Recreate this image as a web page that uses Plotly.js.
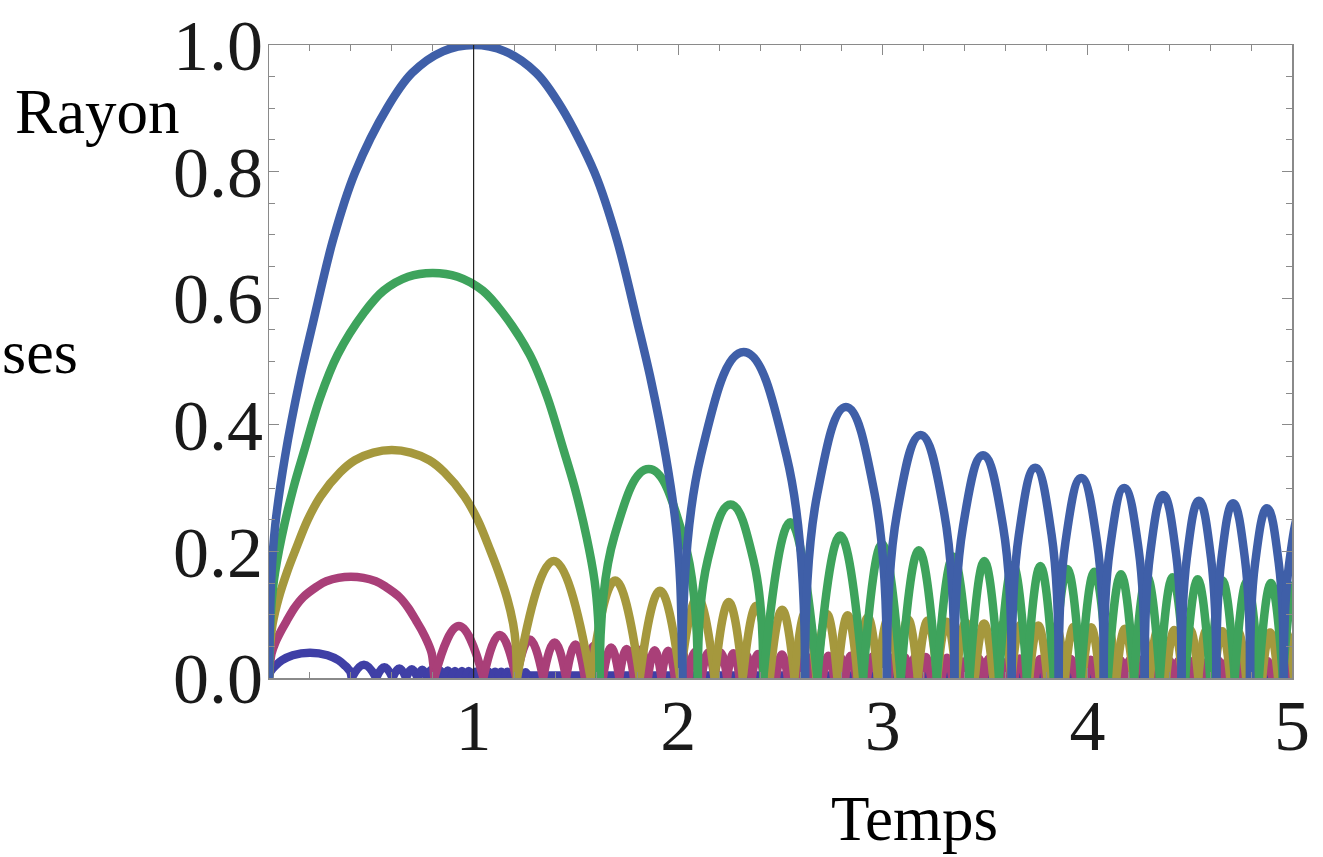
<!DOCTYPE html>
<html>
<head>
<meta charset="utf-8">
<script src="https://cdn.plot.ly/plotly-3.0.1.min.js"></script>
<style>
  html, body { margin: 0; padding: 0; background: #ffffff; }
  #chart { width: 1323px; height: 857px; }
</style>
</head>
<body>
<div id="chart"></div>
<script>
// ---------------- data ----------------
// time axis "Temps", radius axis "Rayon"

// Blue curve (largest bubble): first arch
const blueT = [0, 0.01, 0.03, 0.078, 0.15, 0.215, 0.313, 0.42, 0.58, 0.70, 0.85, 1.0,
  1.153, 1.306, 1.428, 1.592, 1.701, 1.801, 1.867, 1.94, 1.989, 2.01, 2.02];
const blueR = [0, 0.15, 0.24, 0.349, 0.47, 0.561, 0.692, 0.798, 0.902, 0.956, 0.99, 1.0,
  0.99, 0.956, 0.902, 0.798, 0.692, 0.561, 0.47, 0.349, 0.24, 0.15, 0];
// Blue rebounds, null separates arches
const blueBounceT = [
  2.02, 2.11, 2.32, 2.53, 2.62, null,
  2.62, 2.68, 2.82, 2.96, 3.02, null,
  3.02, 3.07, 3.185, 3.30, 3.35, null,
  3.35, 3.392, 3.49, 3.588, 3.63, null,
  3.63, 3.665, 3.745, 3.825, 3.86, null,
  3.86, 3.893, 3.97, 4.047, 4.08, null,
  4.08, 4.11, 4.18, 4.25, 4.28, null,
  4.28, 4.307, 4.37, 4.433, 4.46, null,
  4.46, 4.486, 4.545, 4.604, 4.63, null,
  4.63, 4.655, 4.712, 4.77, 4.795, null,
  4.795, 4.82, 4.878, 4.935, 4.96, null,
  4.96, 4.985, 5.043, 5.10, 5.125
];
const blueBounceR = [
  0, 0.350, 0.515, 0.350, 0, null,
  0, 0.291, 0.428, 0.291, 0, null,
  0, 0.261, 0.384, 0.261, 0, null,
  0, 0.239, 0.352, 0.239, 0, null,
  0, 0.226, 0.332, 0.226, 0, null,
  0, 0.215, 0.316, 0.215, 0, null,
  0, 0.204, 0.300, 0.204, 0, null,
  0, 0.197, 0.289, 0.197, 0, null,
  0, 0.190, 0.280, 0.190, 0, null,
  0, 0.188, 0.276, 0.188, 0, null,
  0, 0.182, 0.268, 0.182, 0, null,
  0, 0.178, 0.262, 0.178, 0
];

// Green curve: first arch, two large rebounds, then later rebounds
const greenT = [0, 0.008, 0.024, 0.062, 0.12, 0.172, 0.25, 0.336, 0.464, 0.56, 0.68, 0.8,
  0.922, 1.045, 1.142, 1.274, 1.361, 1.441, 1.494, 1.552, 1.591, 1.608, 1.616];
const greenR = [0, 0.096, 0.154, 0.223, 0.301, 0.359, 0.443, 0.511, 0.577, 0.612, 0.634, 0.64,
  0.634, 0.612, 0.577, 0.511, 0.443, 0.359, 0.301, 0.223, 0.154, 0.096, 0];
const greenBounceT = [1.616, 1.688, 1.856, 2.024, 2.096, null, 2.096, 2.144, 2.256, 2.368, 2.416];
const greenBounceR = [0, 0.224, 0.330, 0.224, 0, null, 0, 0.186, 0.274, 0.186, 0];
const greenZeros = [2.416, 2.68, 2.904, 3.088, 3.264, 3.424, 3.568, 3.704, 3.836, 3.968,
  4.10, 4.228, 4.354, 4.478, 4.60, 4.72, 4.838, 4.955, 5.072];
const greenPeakT = [2.548, 2.792, 2.996, 3.176, 3.344, 3.496, 3.636, 3.77, 3.902, 4.034,
  4.164, 4.291, 4.416, 4.539, 4.66, 4.779, 4.897, 5.014];
const greenPeakR = [0.246, 0.225, 0.212, 0.202, 0.192, 0.185, 0.179, 0.177, 0.172, 0.168,
  0.164, 0.161, 0.159, 0.156, 0.154, 0.152, 0.150, 0.148];

// Olive curve
const oliveT = [0, 0.006, 0.018, 0.047, 0.09, 0.129, 0.188, 0.252, 0.348, 0.42, 0.51, 0.6,
  0.692, 0.784, 0.857, 0.955, 1.021, 1.081, 1.12, 1.164, 1.193, 1.206, 1.212];
const oliveR = [0, 0.054, 0.086, 0.126, 0.169, 0.202, 0.249, 0.287, 0.325, 0.344, 0.356, 0.36,
  0.356, 0.344, 0.325, 0.287, 0.249, 0.202, 0.169, 0.126, 0.086, 0.054, 0];
const oliveZeros = [1.212, 1.572, 1.812, 2.01, 2.178, 2.316, 2.448, 2.568, 2.676, 2.778,
  2.877, 2.976, 3.075, 3.171, 3.266, 3.359, 3.45, 3.54, 3.629, 3.716,
  3.804, 3.89, 3.976, 4.06, 4.142, 4.224, 4.305, 4.385, 4.464, 4.542,
  4.62, 4.698, 4.776, 4.854, 4.932, 5.01];
const olivePeakT = [1.392, 1.692, 1.911, 2.094, 2.247, 2.382, 2.508, 2.622, 2.727, 2.828,
  2.927, 3.026, 3.123, 3.219, 3.313, 3.405, 3.495, 3.585, 3.673, 3.76,
  3.847, 3.933, 4.018, 4.101, 4.183, 4.265, 4.345, 4.425, 4.503, 4.581,
  4.659, 4.737, 4.815, 4.893, 4.971];
const olivePeakR = [0.185, 0.154, 0.138, 0.127, 0.120, 0.114, 0.108, 0.104, 0.101, 0.099,
  0.096, 0.094, 0.093, 0.091, 0.089, 0.088, 0.086, 0.085, 0.084, 0.083,
  0.082, 0.081, 0.080, 0.079, 0.078, 0.078, 0.077, 0.076, 0.076, 0.075,
  0.074, 0.073, 0.073, 0.072, 0.072];

// Magenta curve
const magentaT = [0, 0.012, 0.031, 0.06, 0.086, 0.125, 0.168, 0.232, 0.28, 0.4,
  0.522, 0.571, 0.637, 0.68, 0.72, 0.747, 0.776, 0.796, 0.808];
const magentaR = [0, 0.038, 0.056, 0.075, 0.090, 0.111, 0.128, 0.144, 0.153, 0.16,
  0.153, 0.144, 0.128, 0.111, 0.090, 0.075, 0.056, 0.038, 0];
const magentaZeros = [0.808, 1.048, 1.208, 1.34, 1.452, 1.544, 1.632, 1.712, 1.784, 1.852,
  1.918, 1.984, 2.05, 2.114, 2.177, 2.239, 2.30, 2.36, 2.419, 2.478,
  2.536, 2.594, 2.65, 2.706, 2.762, 2.816, 2.87, 2.923, 2.976, 3.028,
  3.08, 3.132, 3.184, 3.236, 3.288, 3.34, 3.392, 3.444, 3.494, 3.544,
  3.594, 3.644, 3.694, 3.744, 3.794, 3.844, 3.894, 3.944, 3.992, 4.04,
  4.088, 4.136, 4.184, 4.232, 4.28, 4.328, 4.376, 4.424, 4.472, 4.52,
  4.568, 4.616, 4.664, 4.712, 4.76, 4.808, 4.856, 4.904, 4.952, 5.0];
const magentaPeakT = [0.928, 1.128, 1.274, 1.396, 1.498, 1.588, 1.672, 1.748, 1.818, 1.885,
  1.951, 2.017, 2.082, 2.146, 2.208, 2.27, 2.33, 2.39, 2.449, 2.507,
  2.565, 2.622, 2.678, 2.734, 2.789, 2.843, 2.897, 2.95, 3.002, 3.054,
  3.106, 3.158, 3.21, 3.262, 3.314, 3.366, 3.418, 3.469, 3.519, 3.569,
  3.619, 3.669, 3.719, 3.769, 3.819, 3.869, 3.919, 3.968, 4.016, 4.064,
  4.112, 4.16, 4.208, 4.256, 4.304, 4.352, 4.40, 4.448, 4.496, 4.544,
  4.592, 4.64, 4.688, 4.736, 4.784, 4.832, 4.88, 4.928, 4.976];
const magentaPeakR = [0.082, 0.068, 0.061, 0.056, 0.053, 0.051, 0.048, 0.046, 0.045, 0.044,
  0.043, 0.042, 0.041, 0.040, 0.040, 0.039, 0.038, 0.038, 0.037, 0.037,
  0.036, 0.036, 0.036, 0.035, 0.035, 0.035, 0.034, 0.034, 0.034, 0.033,
  0.033, 0.033, 0.033, 0.032, 0.032, 0.032, 0.032, 0.031, 0.031, 0.031,
  0.031, 0.031, 0.030, 0.030, 0.030, 0.030, 0.030, 0.030, 0.029, 0.029,
  0.029, 0.029, 0.029, 0.029, 0.029, 0.028, 0.028, 0.028, 0.028, 0.028,
  0.028, 0.028, 0.028, 0.027, 0.027, 0.027, 0.027, 0.027, 0.027];

// Dark blue curve (smallest bubble)
const darkT = [0, 0.006, 0.016, 0.03, 0.063, 0.116, 0.2, 0.286, 0.34, 0.373, 0.388, 0.398, 0.404];
const darkR = [0, 0.0096, 0.014, 0.019, 0.028, 0.036, 0.04, 0.036, 0.028, 0.019, 0.014, 0.0096, 0];
const darkZeros = [0.404, 0.524, 0.604, 0.67, 0.726, 0.772, 0.816, 0.856, 0.892, 0.926,
  0.959, 0.992, 1.025, 1.057, 1.089, 1.12, 1.15, 1.18, 1.21, 1.239, 1.268];
const darkPeakT = [0.464, 0.564, 0.637, 0.698, 0.749, 0.794, 0.836, 0.874, 0.909, 0.943,
  0.976, 1.009, 1.041, 1.073, 1.105, 1.135, 1.165, 1.195, 1.225, 1.254];
const darkPeakR = [0.021, 0.017, 0.015, 0.014, 0.013, 0.013, 0.012, 0.012, 0.011, 0.011,
  0.011, 0.010, 0.010, 0.010, 0.010, 0.010, 0.010, 0.009, 0.009, 0.009];
const darkTailT = [1.268, 5.0];
const darkTailR = [0.004, 0.004];

const axisOriginT = 1;           // vertical axis line drawn at t = 1
const yTicks = [0, 0.2, 0.4, 0.6, 0.8, 1.0];
const xTicks = [1, 2, 3, 4, 5];

// ---------------- build traces ----------------
function arches(zeros, peakT, peakR) {
  const x = [], y = [];
  for (let i = 0; i < peakT.length; i++) {
    x.push(zeros[i], peakT[i], zeros[i + 1], null);
    y.push(0, peakR[i], 0, null);
  }
  return { x, y };
}
function join(a, b) {
  return { x: a.x.concat([null], b.x), y: a.y.concat([null], b.y) };
}

const COLORS = {
  blue: '#3f5fa8',
  green: '#3ea35c',
  olive: '#a5983d',
  magenta: '#a93f78',
  dark: '#3f3fa6'
};
const LW = 8.5;

function lineTrace(xy, color, shape, smoothing) {
  return {
    type: 'scatter', mode: 'lines', x: xy.x, y: xy.y,
    line: { color: color, width: LW, shape: shape || 'spline',
            smoothing: smoothing === undefined ? 1.3 : smoothing, simplify: false },
    connectgaps: false, hoverinfo: 'skip', showlegend: false
  };
}

const traces = [
  lineTrace({ x: darkTailT, y: darkTailR }, COLORS.dark, 'linear'),
  lineTrace({ x: darkT, y: darkR }, COLORS.dark, 'spline', 0.9),
  lineTrace(arches(darkZeros, darkPeakT, darkPeakR), COLORS.dark),
  lineTrace({ x: magentaT, y: magentaR }, COLORS.magenta, 'spline', 0.9),
  lineTrace(arches(magentaZeros, magentaPeakT, magentaPeakR), COLORS.magenta),
  lineTrace({ x: oliveT, y: oliveR }, COLORS.olive, 'spline', 0.9),
  lineTrace(arches(oliveZeros, olivePeakT, olivePeakR), COLORS.olive),
  lineTrace({ x: greenT, y: greenR }, COLORS.green, 'spline', 0.9),
  lineTrace(join({ x: greenBounceT, y: greenBounceR }, arches(greenZeros, greenPeakT, greenPeakR)), COLORS.green),
  lineTrace({ x: blueT, y: blueR }, COLORS.blue, 'spline', 0.9),
  lineTrace({ x: blueBounceT, y: blueBounceR }, COLORS.blue)
];

const FONT = '"Liberation Serif", "Times New Roman", Times, serif';
const FRAME = '#8a8a8a';

const L = 269, R = 31, T = 45, B = 179;
const W = 1323, H = 857;
const pw = W - L - R, ph = H - T - B;
function px(xPix) { return (xPix - L) / pw; }
function py(yPix) { return (H - B - yPix) / ph; }

const layout = {
  width: W, height: H,
  margin: { l: L, r: R, t: T, b: B, pad: 0 },
  paper_bgcolor: '#ffffff', plot_bgcolor: '#ffffff',
  showlegend: false,
  xaxis: {
    range: [0, 5], tickmode: 'array', tickvals: xTicks, ticktext: xTicks.map(String),
    ticks: 'inside', ticklen: 10, tickwidth: 1.3, tickcolor: FRAME,
    showline: true, linecolor: FRAME, linewidth: 1.5, mirror: 'allticks',
    showgrid: false, zeroline: false, automargin: false,
    tickfont: { family: FONT, size: 72, color: '#1a1a1a' },
    ticklabelstandoff: -16,
    minor: { tickmode: 'linear', tick0: 0, dtick: 0.2, ticks: 'inside', ticklen: 6, tickwidth: 1, tickcolor: FRAME, showgrid: false }
  },
  yaxis: {
    range: [0, 1], tickmode: 'array', tickvals: yTicks, ticktext: yTicks.map(v => v.toFixed(1)),
    ticks: 'inside', ticklen: 10, tickwidth: 1.3, tickcolor: FRAME,
    showline: true, linecolor: FRAME, linewidth: 1.5, mirror: 'allticks',
    showgrid: false, zeroline: false, automargin: false,
    tickfont: { family: FONT, size: 72, color: '#1a1a1a' },
    ticklabelstandoff: -10,
    minor: { tickmode: 'linear', tick0: 0, dtick: 0.05, ticks: 'inside', ticklen: 6, tickwidth: 1, tickcolor: FRAME, showgrid: false }
  },
  shapes: [
    { type: 'line', xref: 'x', yref: 'y', x0: axisOriginT, x1: axisOriginT, y0: 0, y1: 1,
      line: { color: '#222222', width: 1.2 }, layer: 'above' }
  ],
  annotations: [
    { text: 'Rayon', xref: 'paper', yref: 'paper', x: px(97), y: py(112), xanchor: 'center', yanchor: 'middle',
      showarrow: false, font: { family: FONT, size: 63, color: '#000' } },
    { text: 'Temps', xref: 'paper', yref: 'paper', x: px(914), y: py(856), xanchor: 'center', yanchor: 'bottom',
      showarrow: false, font: { family: FONT, size: 63, color: '#000' } },
    { text: 'ses', xref: 'paper', yref: 'paper', x: px(0), y: py(352), xanchor: 'left', yanchor: 'middle',
      showarrow: false, font: { family: FONT, size: 62, color: '#000' } }
  ]
};

Plotly.newPlot('chart', traces, layout, { staticPlot: true, displayModeBar: false });
</script>
</body>
</html>
